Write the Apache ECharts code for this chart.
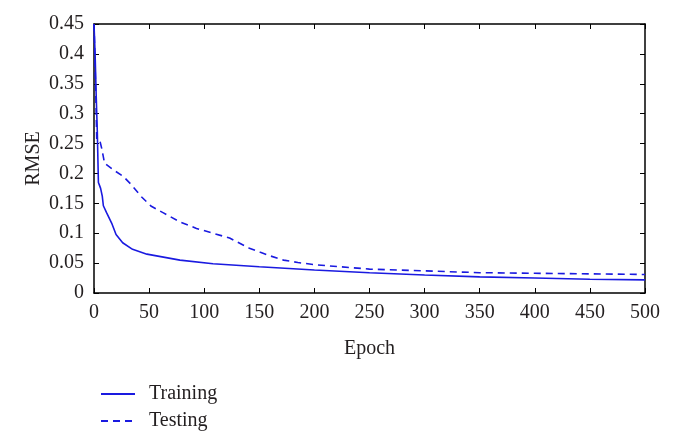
<!DOCTYPE html>
<html>
<head>
<meta charset="utf-8">
<script src="https://cdn.jsdelivr.net/npm/echarts@6/dist/echarts.min.js"></script>
<style>
  html, body { margin: 0; padding: 0; background: #fff; }
  #chart { width: 674px; height: 445px; }
</style>
</head>
<body>
<div id="chart"></div>
<script>
// values
const trainEpochs = [0, 1, 2, 3, 4, 5, 6, 7.5, 8.5, 11.5, 16, 20, 26, 35, 48, 78, 108, 150, 200, 250, 300, 350, 400, 450, 500];
const trainRmse = [0.45, 0.40, 0.33, 0.27, 0.185, 0.18, 0.175, 0.162, 0.146, 0.134, 0.117, 0.098, 0.084, 0.073, 0.065, 0.055, 0.049, 0.044, 0.0385, 0.034, 0.030, 0.027, 0.025, 0.023, 0.022];

const testEpochs = [0, 1, 2, 2.5, 4, 5.4, 7, 9.6, 17.5, 26.6, 34, 43, 52, 63, 78, 93, 108, 123, 141, 151, 160, 172, 185, 202, 250, 300, 350, 400, 450, 500];
const testRmse = [0.45, 0.38, 0.30, 0.256, 0.258, 0.254, 0.242, 0.217, 0.206, 0.195, 0.181, 0.161, 0.145, 0.134, 0.119, 0.108, 0.100, 0.092, 0.075, 0.068, 0.062, 0.055, 0.051, 0.047, 0.040, 0.037, 0.034, 0.033, 0.032, 0.031];

const seriesNames = ['Training', 'Testing'];

const lineColor = '#1a1ae0';
const textColor = '#231f20';
const font = 'Liberation Serif';

const zip = (xs, ys) => xs.map((x, i) => [x, ys[i]]);

const chart = echarts.init(document.getElementById('chart'));

const axisCommon = {
  axisLine: { show: true, onZero: false, lineStyle: { color: '#000', width: 1.5 } },
  axisTick: { show: true, inside: true, length: 5, lineStyle: { color: '#000' } },
  splitLine: { show: false },
  axisLabel: { color: textColor, fontFamily: font, fontSize: 20 }
};

chart.setOption({
  animation: false,
  grid: { left: 94, right: 29, top: 24, bottom: 152 },
  legend: {
    orient: 'vertical',
    left: 95,
    top: 379,
    height: 64,
    itemWidth: 34,
    itemHeight: 14,
    itemGap: 7,
    data: seriesNames,
    itemStyle: { opacity: 0 },
    textStyle: { color: textColor, fontFamily: font, fontSize: 20, padding: [0, 0, 0, 9] }
  },
  xAxis: [
    Object.assign({}, axisCommon, {
      type: 'value', min: 0, max: 500, interval: 50,
      name: 'Epoch', nameLocation: 'middle', nameGap: 46,
      nameTextStyle: { color: textColor, fontFamily: font, fontSize: 20 },
      axisLabel: Object.assign({}, axisCommon.axisLabel, { margin: 10 })
    }),
    Object.assign({}, axisCommon, {
      type: 'value', min: 0, max: 500, interval: 50, position: 'top',
      axisLabel: { show: false }
    })
  ],
  yAxis: [
    Object.assign({}, axisCommon, {
      type: 'value', min: 0, max: 0.45, interval: 0.05,
      name: 'RMSE', nameLocation: 'middle', nameGap: 50, nameMoveOverlap: false,
      nameTextStyle: { color: textColor, fontFamily: font, fontSize: 20 },
      axisLabel: Object.assign({}, axisCommon.axisLabel, { margin: 10 })
    }),
    Object.assign({}, axisCommon, {
      type: 'value', min: 0, max: 0.45, interval: 0.05, position: 'right',
      axisLabel: { show: false }
    })
  ],
  series: [
    {
      name: seriesNames[0],
      type: 'line',
      data: zip(trainEpochs, trainRmse),
      symbol: 'none',
      lineStyle: { color: lineColor, width: 1.6, type: 'solid' },
      itemStyle: { color: lineColor }
    },
    {
      name: seriesNames[1],
      type: 'line',
      data: zip(testEpochs, testRmse),
      symbol: 'none',
      lineStyle: { color: lineColor, width: 1.6, type: [7, 5] },
      itemStyle: { color: lineColor }
    }
  ]
});
</script>
</body>
</html>
